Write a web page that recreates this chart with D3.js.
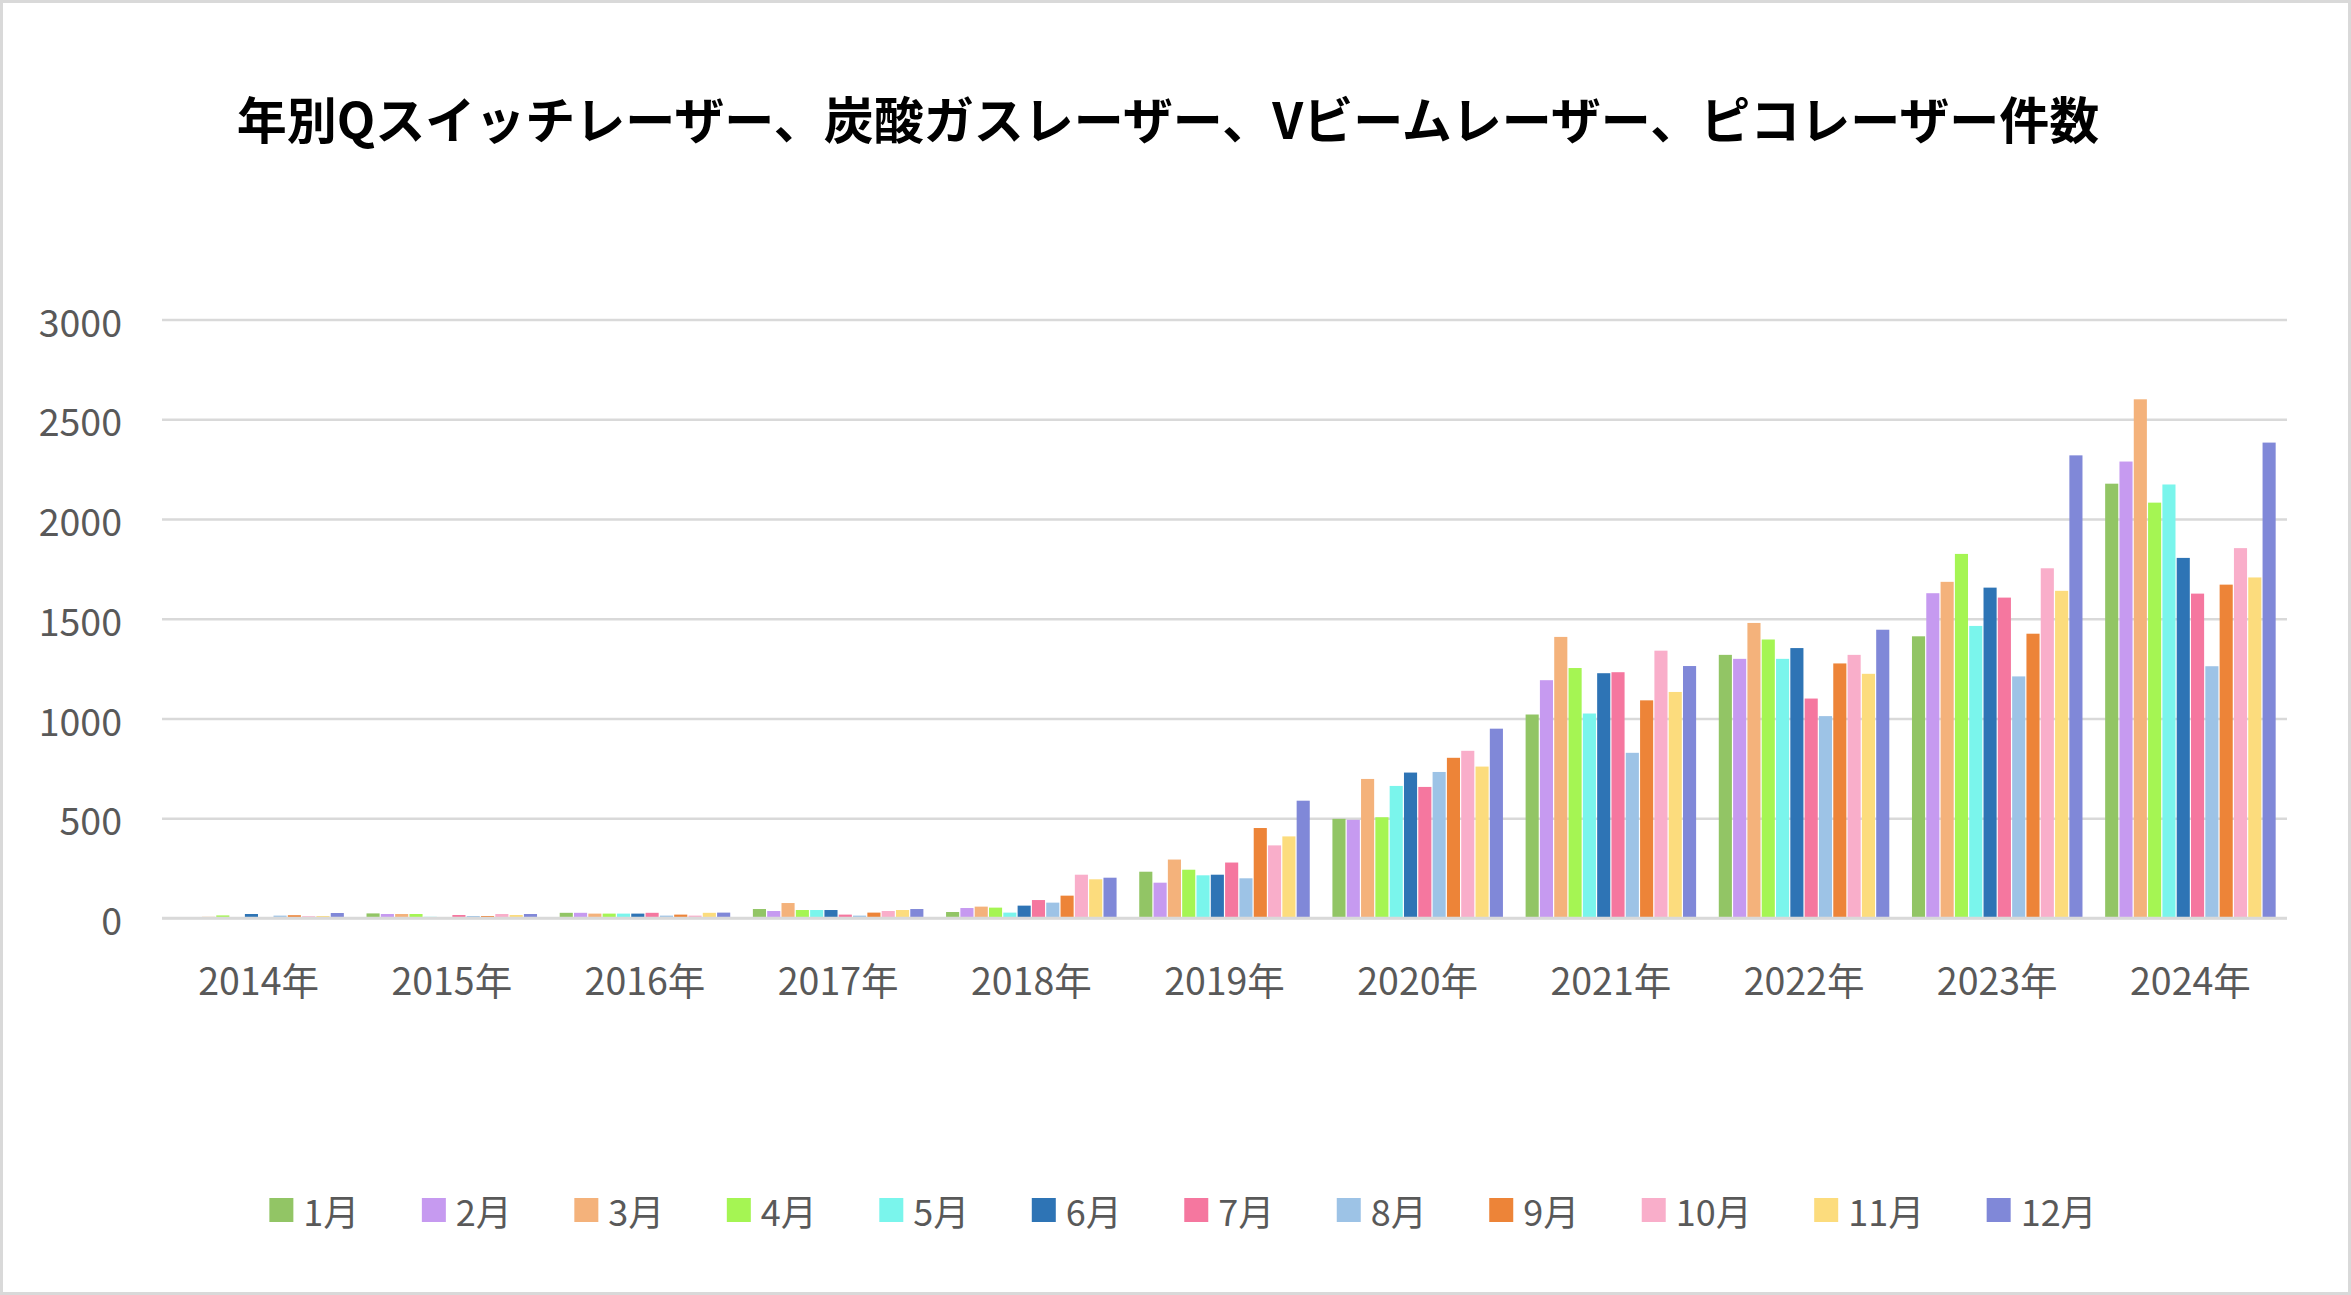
<!DOCTYPE html>
<html>
<head>
<meta charset="utf-8">
<script src="https://cdn.jsdelivr.net/npm/d3@7"></script>
<style>
  html, body { margin: 0; padding: 0; background: #fff; }
  svg { display: block; }
</style>
</head>
<body>
<svg id="chart" width="2351" height="1295"></svg>
<script>
const titleText = "年別Qスイッチレーザー、炭酸ガスレーザー、Vビームレーザー、ピコレーザー件数";
const years = ["2014年","2015年","2016年","2017年","2018年","2019年","2020年","2021年","2022年","2023年","2024年"];
const months = ["1月","2月","3月","4月","5月","6月","7月","8月","9月","10月","11月","12月"];
const yTicks = [0, 500, 1000, 1500, 2000, 2500, 3000];

// values per month, across years 2014..2024
const m01 = [0, 23, 26, 45, 30, 232, 497, 1020, 1319, 1412, 2177];
const m02 = [0, 20, 26, 35, 50, 177, 492, 1192, 1299, 1628, 2288];
const m03 = [6, 20, 22, 75, 57, 293, 697, 1409, 1479, 1685, 2600];
const m04 = [13, 20, 22, 40, 52, 242, 505, 1253, 1396, 1825, 2082];
const m05 = [5, 6, 22, 40, 27, 214, 662, 1025, 1299, 1464, 2173];
const m06 = [20, 5, 22, 40, 62, 217, 729, 1227, 1353, 1656, 1805];
const m07 = [4, 15, 26, 17, 90, 278, 657, 1232, 1100, 1606, 1626];
const m08 = [12, 10, 12, 12, 77, 199, 732, 828, 1012, 1211, 1262];
const m09 = [14, 10, 17, 27, 112, 451, 803, 1091, 1276, 1425, 1671];
const m10 = [9, 20, 12, 35, 217, 364, 838, 1340, 1319, 1753, 1854];
const m11 = [10, 15, 26, 40, 194, 409, 759, 1133, 1224, 1640, 1707];
const m12 = [25, 20, 27, 45, 202, 588, 949, 1263, 1445, 2319, 2383];
const seriesValues = [m01, m02, m03, m04, m05, m06, m07, m08, m09, m10, m11, m12];

const colors = ["#92C565","#C69AF0","#F4B27B","#A5F553","#7AF5EC","#2E74B5",
                "#F5779F","#9DC3E6","#ED8438","#F9AECA","#FCDC7D","#8088D8"];

const W = 2351, H = 1295;
const FONT = "'Noto Sans CJK JP', 'Noto Sans', sans-serif";
const TXT = "#595959";
const GRID = "#D9D9D9";
const plot = { left: 162, right: 2287, top: 319.5, bottom: 918 };

const svg = d3.select("#chart");
svg.append("rect").attr("x", 0).attr("y", 0).attr("width", W).attr("height", H).attr("fill", "#fff");
svg.append("rect").attr("x", 1.5).attr("y", 1.5).attr("width", W - 3).attr("height", H - 3)
  .attr("fill", "none").attr("stroke", GRID).attr("stroke-width", 3);

// title
svg.append("text")
  .attr("x", 1168).attr("y", 117)
  .attr("text-anchor", "middle").attr("dominant-baseline", "central")
  .attr("font-family", FONT).attr("font-weight", "bold").attr("font-size", 50)
  .attr("fill", "#000")
  .text(titleText);

const x = d3.scaleBand().domain(years).range([plot.left, plot.right]).paddingInner(0).paddingOuter(0);
const xm = d3.scaleBand().domain(months).range([0, x.bandwidth()]).paddingInner(0).paddingOuter(0.75);
const y = d3.scaleLinear().domain([0, 3000]).range([plot.bottom, plot.top]);

// gridlines + y labels
const yAxis = svg.append("g").attr("transform", `translate(${plot.left},0)`)
  .call(d3.axisLeft(y).tickValues(yTicks).tickSize(-(plot.right - plot.left)).tickPadding(40).tickFormat(d3.format("d")));
yAxis.select(".domain").remove();
yAxis.selectAll(".tick line").attr("stroke", GRID).attr("stroke-width", 2.5);
yAxis.selectAll(".tick text").attr("fill", TXT).attr("font-family", FONT).attr("font-size", 37.5)
  .attr("dy", null).attr("dominant-baseline", "central");

// bars
const groups = svg.append("g").selectAll("g").data(months).join("g")
  .attr("fill", (d, i) => colors[i]);
groups.selectAll("rect")
  .data((m, mi) => years.map((yr, yi) => ({ yr, m, v: seriesValues[mi][yi] })))
  .join("rect")
  .attr("x", d => x(d.yr) + xm(d.m) + 0.6)
  .attr("width", xm.bandwidth() - 1.2)
  .attr("y", d => y(d.v))
  .attr("height", d => y(0) - y(d.v));

// baseline (drawn over bars)
svg.append("line").attr("x1", plot.left).attr("x2", plot.right)
  .attr("y1", y(0)).attr("y2", y(0)).attr("stroke", GRID).attr("stroke-width", 2.5);

// x axis labels
const xAxis = svg.append("g").attr("transform", `translate(0,${plot.bottom})`)
  .call(d3.axisBottom(x).tickSize(0).tickPadding(0));
xAxis.select(".domain").remove();
xAxis.selectAll(".tick text").attr("fill", TXT).attr("font-family", FONT).attr("font-size", 37.5)
  .attr("y", 60).attr("dy", null).attr("dominant-baseline", "central");

// legend
const legend = svg.append("g");
const sw = 24, gapText = 10, spacing = 62.5;
let cursor = 0;
months.forEach((m, i) => {
  const g = legend.append("g");
  g.append("rect").attr("x", 0).attr("y", -sw / 2).attr("width", sw).attr("height", sw).attr("fill", colors[i]);
  const t = g.append("text").attr("x", sw + gapText).attr("y", 0)
    .attr("dominant-baseline", "central").attr("fill", TXT)
    .attr("font-family", FONT).attr("font-size", 36).text(m);
  const tw = t.node().getComputedTextLength();
  g.attr("transform", `translate(${cursor},0)`);
  cursor += sw + gapText + tw + spacing;
});
const totalW = cursor - spacing;
legend.attr("transform", `translate(${1183 - totalW / 2},1210)`);
</script>
</body>
</html>
